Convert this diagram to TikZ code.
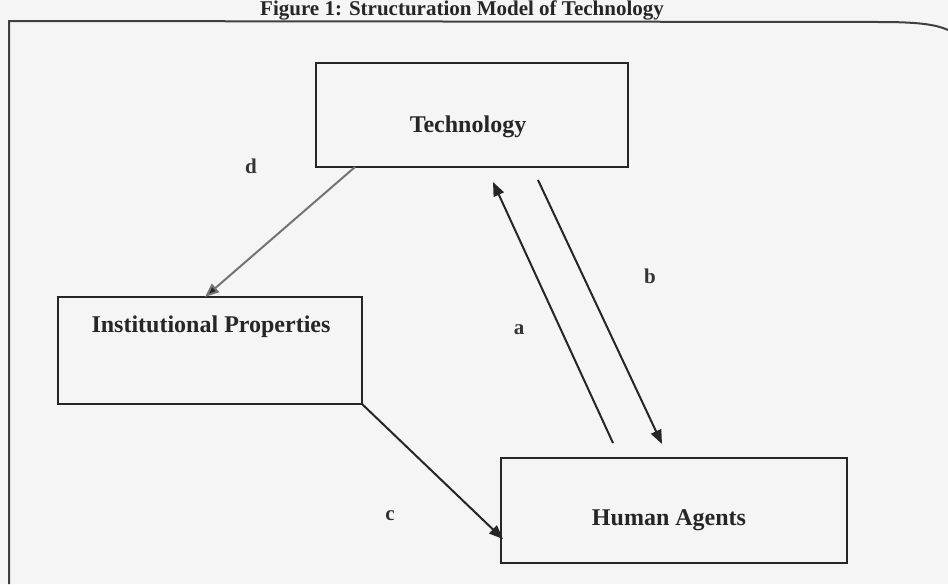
\documentclass[tikz,border=0pt]{standalone}
\usepackage{fontspec}
\setmainfont{Liberation Serif}
\usetikzlibrary{arrows.meta}
\begin{document}
\begin{tikzpicture}[x=1pt,y=-1pt,
  box/.style={draw=black!85,line width=2.2pt,inner sep=0pt},
  boxlabel/.style={font=\fontsize{24}{28}\selectfont\bfseries,text=black!85},
  letter/.style={font=\fontsize{21}{24}\selectfont\bfseries,text=black!80},
  link/.style={line width=2pt,draw=black!85,-{Triangle[length=14pt,width=11pt]}},
  faint/.style={line width=2pt,draw=black!55,-{Triangle[length=14pt,width=11pt,fill=black!85]}}]
  % page
  \fill[black!4] (0,0) rectangle (948,584);
  \useasboundingbox (0,0) rectangle (948,584);
  % caption above the frame
  \node[font=\fontsize{21}{24}\selectfont\bfseries,text=black!85,anchor=base] (title) at (462,15) {Figure 1: Structuration Model of Technology};
  % frame
  \draw[line width=2pt,black!75] (9,584) -- (9,21) -- (880,22) .. controls (915,22) and (935,24) .. (948,30);
  % boxes
  \node[box,minimum width=312pt,minimum height=104pt] (tech) at (472,115) {};
  \node[boxlabel] (techtext) at (468,127) {Technology};
  \node[box,minimum width=304pt,minimum height=107pt] (inst) at (210,350.5) {};
  \node[boxlabel] (insttext) at (211,327) {Institutional Properties};
  \node[box,minimum width=346pt,minimum height=105pt] (human) at (674,510.5) {};
  \node[boxlabel] (humantext) at (669,520) {Human Agents};
  % connectors
  \coordinate (dstart) at (355,167);
  \coordinate (dend) at (205,297);
  \coordinate (astart) at (613,443);
  \coordinate (aend) at (493,182);
  \coordinate (bstart) at (538,180);
  \coordinate (bend) at (662,444);
  \coordinate (cstart) at (362,404);
  \coordinate (cend) at (503,539);
  \draw[faint] (dstart) -- (dend);
  \draw[link] (astart) -- (aend);
  \draw[link] (bstart) -- (bend);
  \draw[link] (cstart) -- (cend);
  % connector letters
  \node[letter] (ld) at (251,166) {d};
  \node[letter] (la) at (519,330) {a};
  \node[letter] (lb) at (650,276) {b};
  \node[letter] (lc) at (390,516) {c};
\end{tikzpicture}
\end{document}
